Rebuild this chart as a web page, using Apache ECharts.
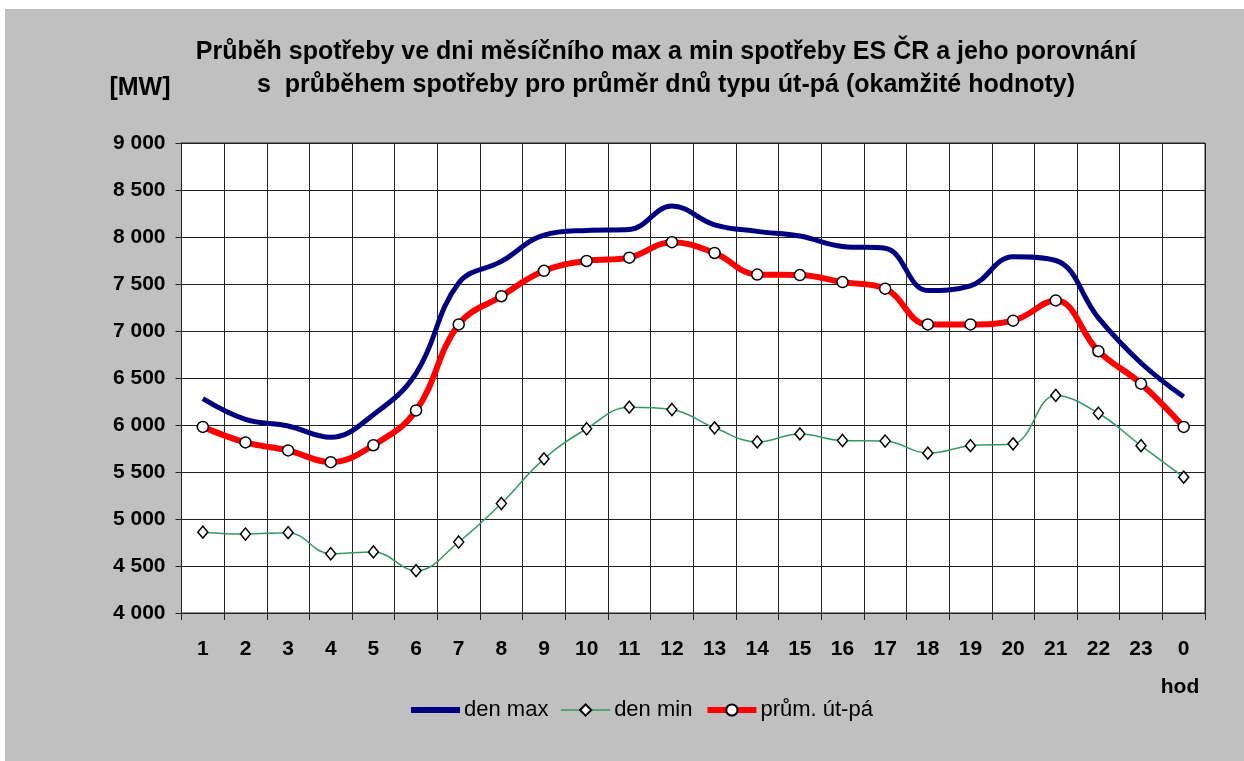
<!DOCTYPE html>
<html>
<head>
<meta charset="utf-8">
<script src="https://cdn.jsdelivr.net/npm/echarts@6/dist/echarts.min.js"></script>
<style>
  html, body { margin: 0; padding: 0; background: #fff; }
  #bg { position: absolute; left: 5px; top: 9px; width: 1239px; height: 752px; background: #c0c0c0; }
  #chart { position: absolute; left: 0; top: 0; width: 1244px; height: 761px; }
</style>
</head>
<body>
<div id="bg"></div>
<div id="chart"></div>
<script>
// hodiny
let hours = ['1', '2', '3', '4', '5', '6', '7', '8', '9', '10', '11', '12',
    '13', '14', '15', '16', '17', '18', '19', '20', '21', '22', '23', '0']
// den max
let denMax = [6280, 6060, 5990, 5870, 6110, 6550, 7510, 7740, 8020, 8070, 8080, 8330,
    8130, 8060, 8010, 7900, 7880, 7430, 7480, 7790, 7750, 7140, 6660, 6300]
// den min
let denMin = [4860, 4840, 4855, 4630, 4650, 4450, 4755, 5165, 5640, 5960, 6190, 6165,
    5970, 5820, 5905, 5835, 5830, 5700, 5780, 5800, 6315, 6125, 5780, 5445]
// prům. út-pá
let prum = [5980, 5815, 5730, 5605, 5785, 6155, 7070, 7370, 7640, 7745, 7780, 7945,
    7830, 7600, 7595, 7520, 7450, 7070, 7070, 7110, 7325, 6785, 6440, 5980]

let font = 'Liberation Sans, Arial, sans-serif'

let myChart = echarts.init(document.getElementById('chart'))
myChart.setOption({
    animation: false,
    backgroundColor: 'transparent',
    textStyle: { fontFamily: font },
    graphic: [
        {
            type: 'text', x: 666, y: 69,
            style: {
                text: 'Průběh spotřeby ve dni měsíčního max a min spotřeby ES ČR a jeho porovnání\ns  průběhem spotřeby pro průměr dnů typu út-pá (okamžité hodnoty)',
                font: 'bold 25px ' + font, fill: '#000',
                align: 'center', verticalAlign: 'middle', lineHeight: 33
            }
        },
        {
            type: 'text', x: 140, y: 88,
            style: { text: '[MW]', font: 'bold 25px ' + font, fill: '#000', align: 'center', verticalAlign: 'middle' }
        },
        {
            type: 'text', x: 1180, y: 687,
            style: { text: 'hod', font: 'bold 21px ' + font, fill: '#000', align: 'center', verticalAlign: 'middle' }
        }
    ],
    legend: {
        top: 699,
        left: 408,
        padding: 0,
        itemWidth: 49,
        itemHeight: 14,
        itemGap: 12,
        textStyle: { fontSize: 22, color: '#000', padding: [0, 0, 0, -1] },
        data: [
            { name: 'den max', itemStyle: { opacity: 0 }, lineStyle: { width: 6 } },
            { name: 'den min', lineStyle: { width: 1.5 } },
            { name: 'prům. út-pá', lineStyle: { width: 6 } }
        ]
    },
    grid: {
        left: 181.5,
        right: 39,
        top: 143,
        bottom: 148,
        show: true,
        backgroundColor: '#fff',
        borderColor: '#222',
        borderWidth: 1
    },
    xAxis: {
        type: 'category',
        boundaryGap: true,
        data: hours,
        axisLine: { lineStyle: { color: '#222', width: 1 } },
        axisTick: { show: true, length: 7, interval: 0, lineStyle: { color: '#222' } },
        axisLabel: { interval: 0, margin: 26, fontSize: 21, fontWeight: 'bold', color: '#000' },
        splitLine: { show: true, interval: 0, lineStyle: { color: '#222', width: 1 } }
    },
    yAxis: {
        type: 'value',
        min: 4000,
        max: 9000,
        interval: 500,
        axisLine: { show: true, lineStyle: { color: '#222', width: 1 } },
        axisTick: { show: true, length: 6, lineStyle: { color: '#222' } },
        axisLabel: {
            margin: 16, fontSize: 21, fontWeight: 'bold', color: '#000',
            formatter: function (v) { return String(v).replace(/\B(?=(\d{3})+(?!\d))/g, ' ') }
        },
        splitLine: { show: true, lineStyle: { color: '#222', width: 1 } }
    },
    series: [
        {
            name: 'den max',
            type: 'line',
            data: denMax,
            smooth: 0.4,
            showSymbol: false,
            symbol: 'none',
            color: '#000080',
            lineStyle: { width: 5, color: '#000080' }
        },
        {
            name: 'den min',
            type: 'line',
            data: denMin,
            smooth: 0.4,
            symbol: 'diamond',
            symbolSize: [10, 12],
            color: '#339966',
            lineStyle: { width: 1.5, color: '#339966' },
            itemStyle: { color: '#fff', borderColor: '#000', borderWidth: 1.5 }
        },
        {
            name: 'prům. út-pá',
            type: 'line',
            data: prum,
            smooth: 0.4,
            symbol: 'circle',
            symbolSize: 11,
            color: '#ff0000',
            lineStyle: { width: 6, color: '#ff0000' },
            itemStyle: { color: '#fff', borderColor: '#000', borderWidth: 1.5 }
        }
    ]
})
</script>
</body>
</html>
